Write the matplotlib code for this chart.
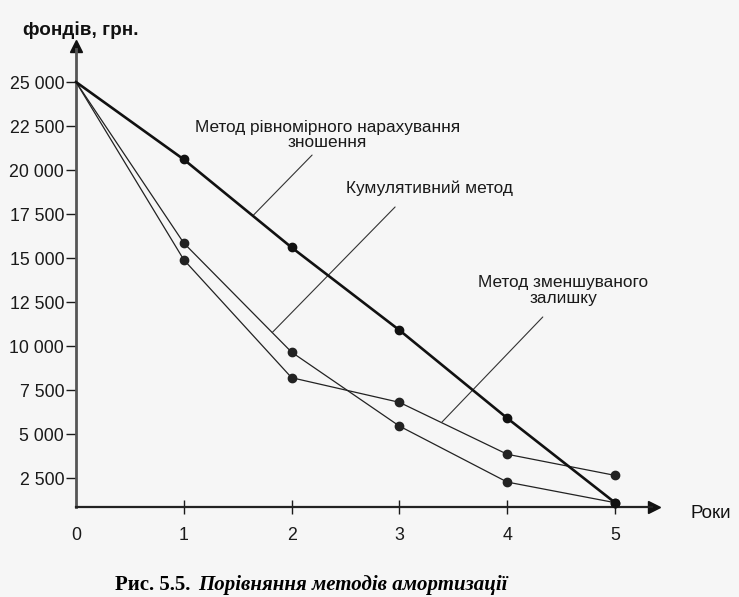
# -*- coding: utf-8 -*-
"""Порівняння методів амортизації: залишкова вартість по роках."""
import numpy as np
import matplotlib
matplotlib.use("Agg")
import matplotlib.pyplot as plt

plt.rcParams["font.family"] = ["Liberation Sans", "DejaVu Sans"]

# ---------- дані ----------
years = [0, 1, 2, 3, 4, 5]
straight = [25000, 20600, 15600, 10900, 5900, 1100]      # рівномірне нарахування
cumulative = [25000, 15850, 9650, 5450, 2270, 1100]      # кумулятивний метод
declining = [25000, 14900, 8200, 6800, 3850, 2650]       # зменшуваного залишку

xticks = [0, 1, 2, 3, 4, 5]
yticks = [2500, 5000, 7500, 10000, 12500, 15000, 17500, 20000, 22500, 25000]
ytick_labels = ["2 500", "5 000", "7 500", "10 000", "12 500",
                "15 000", "17 500", "20 000", "22 500", "25 000"]

X_AXIS_LEVEL = 850      # горизонтальна вісь на скані трохи вище нуля
Y_TOP = 27400
X_RIGHT = 5.42

# ---------- рисунок ----------
fig = plt.figure(figsize=(7.39, 5.97), dpi=100, facecolor="#f6f6f6")
ax = fig.add_axes([0, 0, 1, 1])
ax.set_facecolor("#f6f6f6")
ax.set_xlim(-0.705, 6.15)
ax.set_ylim(-4260, 29660)

for s in ("top", "right"):
    ax.spines[s].set_visible(False)
ax.spines["left"].set_position(("data", 0))
ax.spines["bottom"].set_position(("data", X_AXIS_LEVEL))
ax.spines["left"].set_bounds(X_AXIS_LEVEL, Y_TOP - 500)
ax.spines["bottom"].set_bounds(0, X_RIGHT - 0.08)
ax.spines["left"].set_linewidth(2.0)
ax.spines["left"].set_color("#555555")
ax.spines["bottom"].set_linewidth(1.6)
ax.spines["bottom"].set_color("#222222")

# стрілки осей
ax.plot(0, Y_TOP - 330, marker="^", ms=8, color="#111111", clip_on=False)
ax.plot(X_RIGHT - 0.06, X_AXIS_LEVEL, marker=">", ms=9, color="#111111", clip_on=False)

ax.set_yticks(yticks)
ax.set_yticklabels(ytick_labels)
ax.set_xticks(xticks)
ax.set_xticklabels([str(v) for v in xticks])
ax.tick_params(axis="y", direction="out", length=7, width=1.0, pad=1.5,
               labelsize=12.8, colors="#1a1a1a")
ax.tick_params(axis="x", direction="inout", length=10, width=1.0, pad=9,
               labelsize=12.8, colors="#1a1a1a")
ax.xaxis.get_major_ticks()[0].tick1line.set_visible(False)

# ---------- лінії ----------
ax.plot(years, straight, color="#111111", lw=1.9, marker="o", ms=6,
        markevery=list(range(1, 6)), zorder=4)
ax.plot(years, cumulative, color="#222222", lw=0.9, marker="o", ms=6,
        markevery=list(range(1, 6)), zorder=3)
ax.plot(years, declining, color="#222222", lw=0.9, marker="o", ms=6,
        markevery=list(range(1, 6)), zorder=3)

# ---------- підписи методів з виносками ----------
lbl = dict(fontsize=12.4, ha="center", va="center", color="#1a1a1a",
           linespacing=1.05)
ax.text(2.33, 21990, "Метод рівномірного нарахування\nзношення", **lbl)
ax.text(3.28, 18980, "Кумулятивний метод", **lbl)
ax.text(4.52, 13150, "Метод зменшуваного\nзалишку", **lbl)

lead = dict(arrowstyle="-", color="#333333", lw=0.8, shrinkA=0, shrinkB=0)
for x0, y0, xt in ((2.19, 20850, 1.64), (2.96, 17900, 1.82), (4.33, 11650, 3.39)):
    series = {1.64: straight, 1.82: cumulative, 3.39: declining}[xt]
    ax.annotate("", xy=(xt, np.interp(xt, years, series)), xytext=(x0, y0),
                arrowprops=lead)

# ---------- назви осей та підпис рисунка ----------
fig.text(23 / 739, 1 - 30 / 597, "фондів, грн.", fontsize=13.6, fontweight="bold",
         ha="left", va="center", color="#111111")
fig.text(690 / 739, 1 - 513 / 597, "Роки", fontsize=13.5, ha="left", va="center",
         color="#111111")
fig.text(115 / 739, 7 / 597, "Рис. 5.5. ", fontsize=15, fontweight="bold",
         family=["Liberation Serif", "DejaVu Serif"], ha="left", va="baseline")
fig.text(198 / 739, 7 / 597, "Порівняння методів амортизації", fontsize=15,
         fontweight="bold", style="italic",
         family=["Liberation Serif", "DejaVu Serif"], ha="left", va="baseline")

fig.savefig("out.png", dpi=100, facecolor=fig.get_facecolor())
